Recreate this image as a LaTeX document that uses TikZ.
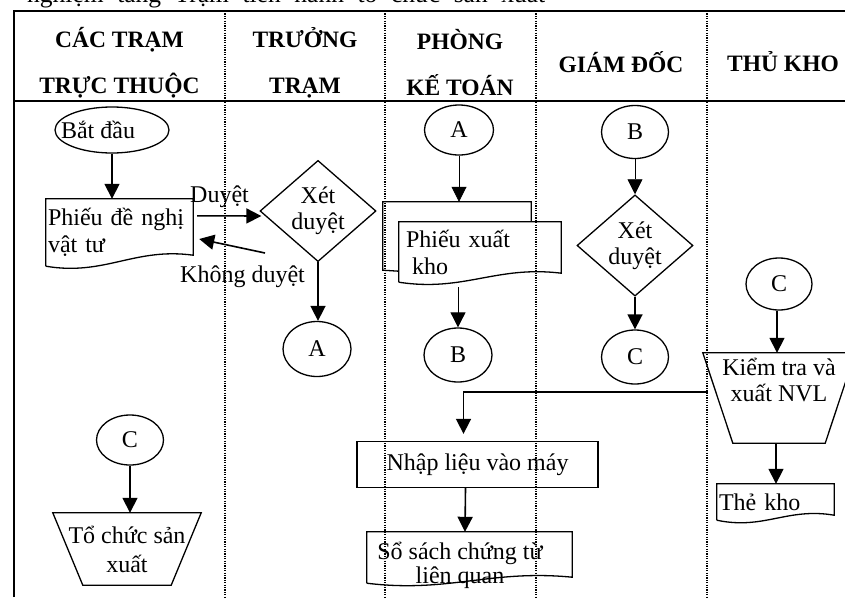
\documentclass[tikz,border=0pt]{standalone}
\usepackage{fontspec}
\setmainfont{Liberation Serif}
\usetikzlibrary{shapes.geometric, arrows.meta, calc}

\newcommand\docline[2]{%
  \draw[shapeline] (#1.south west) -- (#1.north west) -- (#1.north east)
    -- ($(#1.south east)+(0,-#2)$)
    .. controls ($(#1.south west)!0.6!(#1.south east)+(0,-#2-8)$)
    and ($(#1.south west)!0.4!(#1.south east)+(0,10)$) .. (#1.south west);}
\newcommand\trapline[2]{%
  \draw[shapeline] (#1.north west) -- (#1.north east)
    -- ($(#1.south east)+(-#2,0)$) -- ($(#1.south west)+(#2,0)$) -- cycle;}

\begin{document}
\begin{tikzpicture}[x=1pt, y=-1pt,
  every node/.append style={font=\fontsize{24}{27}\selectfont},
  frame/.style={line width=2.5pt},
  lane/.style={line width=1.2pt, dash pattern=on 1.2pt off 1.2pt},
  shapeline/.style={line width=1.3pt},
  conn/.style={line width=1.6pt, -{Triangle[width=15pt,length=15pt]}},
  thinconn/.style={line width=0.8pt, -{Triangle[width=15pt,length=15pt]}},
  oval/.style={ellipse, draw, line width=1.3pt, inner sep=0pt},
  decision/.style={diamond, draw, line width=1.3pt, inner sep=0pt,
    minimum width=116pt, minimum height=90pt, align=center,
    font=\fontsize{24}{26}\selectfont},
  procbox/.style={rectangle, draw, line width=1.3pt, inner sep=0pt},
  plainbox/.style={rectangle, inner sep=0pt},
  hdr/.style={align=center, font=\bfseries\fontsize{23.5}{46}\selectfont},
  lbl/.style={anchor=base west, inner sep=0pt}
]
\useasboundingbox (0,0) rectangle (845,597);
\clip (0,0) rectangle (845,597);

% cut-off line of text above the table
\node[lbl, font=\fontsize{25.5}{27}\selectfont] (toptext) at (27,2.5)
  {\makebox[518pt][s]{nghiệm tăng Trạm tiến hành tổ chức sản xuất}};

% frame and lanes
\draw[frame] (14,597) -- (14,11) -- (850,11);
\draw[line width=2pt] (14,101) -- (850,101);
\foreach \lx in {225,385,536,707} \draw[lane] (\lx,11) -- (\lx,597);

% headers
\node[hdr] (h1) at (119.5,63) {CÁC TRẠM\\TRỰC THUỘC};
\node[hdr] (h2) at (305,63) {TRƯỞNG\\TRẠM};
\node[hdr] (h3) at (460,63) {PHÒNG\\KẾ TOÁN};
\node[hdr] (h4) at (621,62) {GIÁM ĐỐC};
\node[hdr] (h5) at (783,62) {THỦ KHO};

% lane 1
\node[oval, minimum width=114pt, minimum height=46pt,
  label={[xshift=-14pt]center:Bắt đầu}] (start) at (112,130) {};
\node[plainbox, minimum width=147pt, minimum height=67pt, text width=143pt,
  align=left, inner xsep=2pt] (doc1) at (119.5,232.5) {Phiếu đề nghị\\vật tư};
\docline{doc1}{11}
\node[oval, minimum width=67pt, minimum height=50pt] (c1) at (130,440) {C};
\node[plainbox, minimum width=148pt, minimum height=72pt, align=center,
  font=\fontsize{24}{29}\selectfont] (tc) at (127,549) {Tổ chức sản\\xuất};
\trapline{tc}{30}

% lane 2
\node[decision] (xd1) at (318,211) {Xét\\duyệt};
\node[oval, minimum width=68pt, minimum height=55pt] (a1) at (317,349) {A};

% lane 3
\node[oval, minimum width=69pt, minimum height=50pt] (a2) at (459,130) {A};
\node[plainbox, minimum width=162pt, minimum height=60pt, text width=148pt,
  align=left, inner xsep=7pt] (px) at (480,252) {Phiếu xuất\\\hspace*{6pt}kho};
\coordinate (pxtop) at ($(px.north west)+(-16,-20)$);
\draw[shapeline] ($(px.south west)+(0,-11)$) -- ($(px.south west)+(-16,-12)$)
  -- (pxtop) -- ($(px.north east)+(-30,-20)$) -- ($(px.north east)+(-30,0)$);
\docline{px}{9}
\node[oval, minimum width=68pt, minimum height=54pt] (b1) at (458,355) {B};
\node[procbox, minimum width=241pt, minimum height=46pt] (nhap) at (477.5,464.5) {Nhập liệu vào máy};
\node[plainbox, minimum width=205pt, minimum height=51pt,
  label={[align=center, xshift=-9.5pt, yshift=-7.5pt, font=\fontsize{24}{24}\selectfont]center:Sổ sách chứng từ\\liên quan}] (ss) at (469.5,557.5) {};
\docline{ss}{6}

% lane 4
\node[oval, minimum width=67pt, minimum height=53pt] (b2) at (635,132) {B};
\node[decision, minimum height=91pt] (xd2) at (635,245.5) {Xét\\duyệt};
\node[oval, minimum width=67pt, minimum height=54pt] (c2) at (635,357) {C};

% lane 5
\node[oval, minimum width=66pt, minimum height=52pt] (c3) at (779,284) {C};
\node[plainbox, minimum width=152pt, minimum height=90pt,
  label={[align=center, yshift=18pt, font=\fontsize{24}{26}\selectfont]center:Kiểm tra và\\xuất NVL}] (kt) at (779,398) {};
\trapline{kt}{30}
\node[plainbox, minimum width=117pt, minimum height=36pt, text width=113pt,
  align=left, inner xsep=2pt] (tk) at (775.5,502) {Thẻ kho};
\docline{tk}{5}

% labels
\node[lbl] (lblok) at (190,202) {Duyệt};
\node[lbl] (lblno) at (180,282) {Không duyệt};
\coordinate (kdfrom) at (265,253);

% connectors
\draw[conn] (start.south) -- (start.south |- doc1.north);
\draw[conn] ($(doc1.north east)+(4,17)$) -- ($(xd1.west)+(2,5)$);
\draw[conn] (kdfrom) -- ($(doc1.east)+(6,6.5)$);
\draw[conn] (xd1.south) -- (xd1.south |- a1.north);
\draw[thinconn] (a2.south) -- (a2.south |- pxtop);
\draw[thinconn] ($(b1.north |- px.south)+(0,5)$) -- (b1.north);
\draw[thinconn] (b2.south) -- (xd2.north);
\draw[conn] (xd2.south) -- (c2.north);
\draw[conn] ($(c3.south)+(-2,0)$) -- ($(c3.south |- kt.north)+(-2,0)$);
\draw[conn, shorten >=7pt] ($(kt.north west)+(5,39)$) -| ($(nhap.north)+(-14,0)$);
\draw[conn] ($(nhap.south)+(-12,0)$) -- ($(ss.north)+(-4.5,0)$);
\draw[conn] ($(kt.south)+(-3,0)$) -- ($(tk.north)+(0.5,0)$);
\draw[conn] (c1.south) -- (c1.south |- tc.north);
\end{tikzpicture}
\end{document}
